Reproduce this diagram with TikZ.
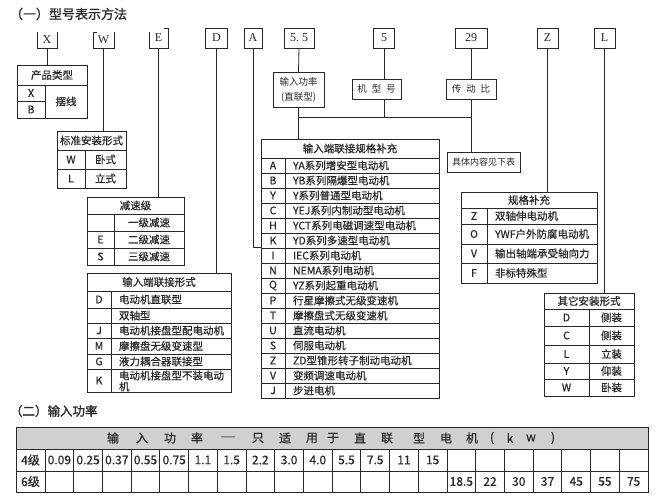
\documentclass[tikz,border=0pt]{standalone}
\usepackage{fontspec}
\setmainfont{Noto Sans CJK SC}[FakeBold=0.5]
\newfontfamily\titlefont{Noto Sans CJK SC}[FakeBold=1.2]
\newfontfamily\thinfont{Noto Sans CJK SC}
\newfontfamily\codefont{Liberation Serif}
\definecolor{hdr}{RGB}{208,208,208}
\definecolor{ink}{RGB}{40,40,40}
\begin{document}
\begin{tikzpicture}[x=1pt,y=-1pt,line width=0.8pt,draw=ink,
  every node/.style={inner sep=0pt,outer sep=0pt,text=ink,font=\fontsize{10.5}{12}\selectfont},
  frame/.style={draw,anchor=north west,inner sep=0pt},
  code/.style={font=\codefont\fontsize{12}{14}\selectfont},
  codebox/.style={code,draw,minimum height=20pt},
  light/.style={font=\thinfont\fontsize{9.5}{15}\selectfont},
  num/.style={font=\fontsize{12}{14}\selectfont}]
\useasboundingbox (0,0) rectangle (656,501);

% titles
\node[anchor=west,font=\titlefont\fontsize{13}{15}\selectfont] (title1) at (10,14) {（一）型号表示方法};
\node[anchor=west,font=\titlefont\fontsize{12.5}{15}\selectfont] (title2) at (10,411) {（二）输入功率};

% code row
\node[code,minimum width=20pt,minimum height=16pt] (cX) at (47,40) {X};
\draw (cX.north west) |- (cX.south east) -- (cX.north east);
\node[code,minimum width=21pt,minimum height=16pt] (cW) at (103.5,40) {W};
\draw ([xshift=4pt]cW.north west) -- (cW.north west) |- (cW.south east) -- (cW.north east);
\node[code,minimum width=19pt,minimum height=20pt] (cE) at (158.5,38) {E};
\draw ([yshift=-4pt]cE.north west) -- (cE.south west) -- (cE.south east) -- (cE.north east) -- ([xshift=-4pt]cE.north east);
\node[codebox,minimum width=22pt] (cD) at (216.5,38) {D};
\node[codebox,minimum width=18pt] (cA) at (253,38) {A};
\node[codebox,minimum width=30pt] (c55) at (299,38) {5.\hspace{3pt}5};
\node[codebox,minimum width=21pt] (c5) at (384,38) {5};
\node[codebox,minimum width=32pt] (c29) at (471,38) {29};
\node[codebox,minimum width=21pt] (cZ) at (547.5,38) {Z};
\node[codebox,minimum width=21pt] (cL) at (604.5,38) {L};

% small boxes
\node[draw,minimum width=51pt,minimum height=35pt,align=center,light] (p1) at (298.5,89.5) {输入功率\\(直联型)};
\node[draw,minimum width=49pt,minimum height=20pt,light] (p2) at (376.5,89) {机\hspace{5pt}型\hspace{5pt}号};
\node[draw,minimum width=50pt,minimum height=20pt,light] (p3) at (471,89) {传\hspace{5pt}动\hspace{5pt}比};
\node[draw,minimum width=73pt,minimum height=20pt,font=\thinfont\fontsize{9}{11}\selectfont] (p4) at (483.5,162) {具体内容见下表};

% table frames
\node[frame,minimum width=70pt,minimum height=53pt] (t1) at (17,65) {};
\node[frame,minimum width=69pt,minimum height=57pt] (t2) at (57,131) {};
\node[frame,minimum width=97pt,minimum height=68pt] (t3) at (87,197) {};
\node[frame,minimum width=144pt,minimum height=119pt] (t4) at (87,273) {};
\node[frame,minimum width=178pt,minimum height=259pt] (t5) at (261,139) {};
\node[frame,minimum width=136pt,minimum height=91pt] (t6) at (461,192) {};
\node[frame,minimum width=90pt,minimum height=103pt] (t7) at (544,293) {};

% connectors
\coordinate (j1) at (299,117);
\coordinate (aK) at (261,247);
\draw (cX.south) -- (cX.south |- t1.north);
\draw (cW.south) -- (cW.south |- t2.north);
\draw (cE.south) -- (cE.south |- t3.north);
\draw (cD.south) -- (cD.south |- t4.north);
\draw (cA.south) |- (aK);
\draw (c55.south) -- (p1.north);
\draw (p1.south) -- (p1.south |- t5.north);
\draw (c5.south) -- (c5.south |- p2.north);
\draw (c5.south |- p2.south) -- (c5.south |- j1);
\draw (c29.south) -- (p3.north);
\draw (p3.south) -- (p3.south |- p4.north);
\draw (p1.south |- j1) -- (p3.south |- j1);
\draw (cZ.south) -- (cZ.south |- t6.north);
\draw (cL.south) -- (cL.south |- t7.north);

% t1 产品类型
\draw (17,85) -- (87,85) (17,101) -- (45,101) (45,85) -- (45,118);
\node (t1h) at (52,75) {产品类型};
\node (t1a) at (31,93) {X};
\node (t1b) at (31,109.5) {B};
\node (t1c) at (66,101.5) {摆线};

% t2 标准安装形式
\draw (57,150) -- (126,150) (57,169) -- (126,169) (85,150) -- (85,188);
\node (t2h) at (91.5,140.5) {标准安装形式};
\node (t2a) at (71,159.5) {W};
\node (t2b) at (105.5,159.5) {卧式};
\node (t2c) at (71,178.5) {L};
\node (t2d) at (105.5,178.5) {立式};

% t3 减速级
\draw (87,214) -- (184,214) (87,231) -- (184,231) (87,248) -- (184,248) (114,214) -- (114,265);
\node (t3h) at (135.5,205.5) {减速级};
\node (t3a) at (149,222.5) {一级减速};
\node (t3b) at (100.5,239.5) {E};
\node (t3c) at (149,239.5) {二级减速};
\node (t3d) at (100.5,256.5) {S};
\node (t3e) at (149,256.5) {三级减速};

% t4 输入端联接形式
\draw (87,291) -- (231,291) (87,308) -- (231,308) (87,323) -- (231,323) (87,338) -- (231,338)
      (87,354) -- (231,354) (87,369) -- (231,369) (111,291) -- (111,392);
\node (t4h) at (159,282) {输入端联接形式};
\node (t4a) at (99,299.5) {D};
\node[anchor=west] (t4b) at (119,299.5) {电动机直联型};
\node[anchor=west] (t4c) at (119,315.5) {双轴型};
\node (t4d) at (99,330.5) {J};
\node[anchor=west] (t4e) at (119,330.5) {电动机接盘型配电动机};
\node (t4f) at (99,346) {M};
\node[anchor=west] (t4g) at (119,346) {摩擦盘无级变速型};
\node (t4i) at (99,361.5) {G};
\node[anchor=west] (t4j) at (119,361.5) {液力耦合器联接型};
\node (t4k) at (99,380.5) {K};
\node[anchor=west,align=left,font=\fontsize{10.5}{11}\selectfont] (t4l) at (119,381) {电动机接盘型不装电动\\机};

% t5 输入端联接规格补充
\draw (261,158) -- (439,158) (285,158) -- (285,398);
\foreach \i in {1,...,15} \draw (261,{158+\i*15}) -- (439,{158+\i*15});
\node (t5h) at (350,148.5) {输入端联接规格补充};
\foreach \l/\t [count=\i] in {A/YA系列增安型电动机,B/YB系列隔爆型电动机,Y/Y系列普通型电动机,
  C/YEJ系列内制动型电动机,H/YCT系列电磁调速型电动机,K/YD系列多速型电动机,I/IEC系列电动机,
  N/NEMA系列电动机,Q/YZ系列起重电动机,P/行星摩擦式无级变速机,T/摩擦盘式无级变速机,
  U/直流电动机,S/伺服电动机,Z/ZD型锥形转子制动电动机,V/变频调速电动机,J/步进电机}
{
  \node (t5l\i) at (273,{158+(\i-0.5)*15}) {\l};
  \node[anchor=west] (t5t\i) at (293,{158+(\i-0.5)*15}) {\t};
}

% t6 规格补充
\draw (461,208) -- (597,208) (461,224) -- (597,224) (461,244) -- (597,244) (461,263) -- (597,263) (487,208) -- (487,283);
\node (t6h) at (529,200) {规格补充};
\node (t6a) at (474,216) {Z};
\node[anchor=west] (t6b) at (495,216) {双轴伸电动机};
\node (t6c) at (474,234) {O};
\node[anchor=west] (t6d) at (495,234) {YWF户外防腐电动机};
\node (t6e) at (474,253.5) {V};
\node[anchor=west] (t6f) at (495,253.5) {输出轴端承受轴向力};
\node (t6g) at (474,273) {F};
\node[anchor=west] (t6i) at (495,273) {非标特殊型};

% t7 其它安装形式
\draw (544,309) -- (634,309) (544,326) -- (634,326) (544,345) -- (634,345) (544,363) -- (634,363) (544,379) -- (634,379) (589,309) -- (589,396);
\node (t7h) at (589,301) {其它安装形式};
\foreach \l/\t/\y [count=\i] in {D/侧装/317.5,C/侧装/335.5,L/立装/354,Y/仰装/371,W/卧装/387.5}
{
  \node (t7l\i) at (566.5,\y) {\l};
  \node (t7t\i) at (611.5,\y) {\t};
}

% bottom table
\fill[hdr] (16,427) rectangle (648,449);
\node[frame,minimum width=632pt,minimum height=65pt] (tb) at (16,427) {};
\draw (16,449) -- (648,449) (16,471) -- (648,471) (45,449) -- (45,492);
\foreach \i in {1,...,20} \draw ({45+\i*28.714},449) -- ({45+\i*28.714},492);
\foreach \t/\x [count=\i] in {输/113,入/142,功/170,率/197,只/258,适/285,用/312,于/333,直/360,联/387,型/419,电/446,机/472,{(}/492,k/510,w/531,{)}/553}
  \node[num] (hh\i) at (\x,438) {\t};
\node[font=\fontsize{8.5}{10}\selectfont] (hdash) at (228,438) {——};
\node[num] (r4) at (30.5,460) {4级};
\node[num] (r6) at (30.5,481.5) {6级};
\foreach \v [count=\i] in {0.09,0.25,0.37,0.55,0.75,1.1,1.5,2.2,3.0,4.0,5.5,7.5,11,15}
  \node[num] (va\i) at ({45+(\i-0.5)*28.714},460) {\v};
\foreach \v [count=\i from 15] in {18.5,22,30,37,45,55,75}
  \node[num] (vb\i) at ({45+(\i-0.5)*28.714},481.5) {\v};
\end{tikzpicture}
\end{document}
